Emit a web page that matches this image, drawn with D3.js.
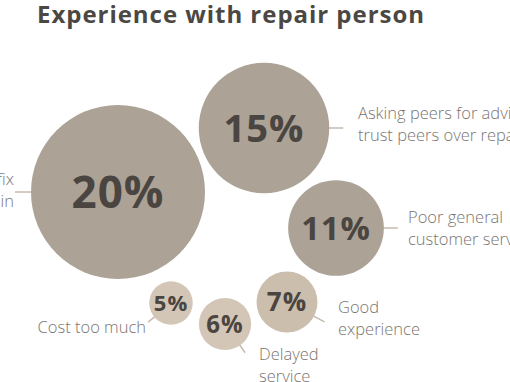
<!DOCTYPE html>
<meta charset="utf-8">
<head>
  <style>
    body { margin: 0; background: #fff; }
    svg { display: block; overflow: hidden; }
    .title { font-family: "Open Sans", sans-serif; font-weight: 700; font-size: 24px; fill: #4b4743; }
    .pct { font-family: "Open Sans", sans-serif; font-weight: 700; fill: #4a4540; letter-spacing: 1px; }
    .lbl { font-family: "Open Sans", sans-serif; font-weight: 300; font-size: 16.5px; fill: #7a7570; }
    .leader { stroke: #c6bbae; stroke-width: 1.5; }
  </style>
  <script src="https://cdn.jsdelivr.net/npm/d3@7"></script>
</head>
<body>
<script>
// values and labels
var values = [20, 15, 11, 7, 6, 5];
var labels = [
  ["Failed to fix", "the problem again"],
  ["Asking peers for advice,", "trust peers over repair person"],
  ["Poor general", "customer service"],
  ["Good", "experience"],
  ["Delayed", "service"],
  ["Cost too much"]
];
var tones = ["dark", "dark", "dark", "mid", "light", "light"];

// layout: bubble centres, where the leader leaves the bubble, label side
var centres = [[118, 192], [264, 128], [336, 228], [287, 302], [225, 324], [171, 303]];
var leaderAngle = [180, 0, 0, 28, 55, 140];   // degrees, 0 = right, clockwise
var leaderLen = [16, 14, 14, 12, 9, 8];
var labelAt = [[14, 185, "end"], [358, 119, "start"], [408, 223, "start"],
               [338, 313, "start"], [259, 360, "start"], [146, 333, "end"]];

var width = 510, height = 382;
var svg = d3.select("body").append("svg")
    .attr("width", width)
    .attr("height", height);

var r = d3.scaleLinear().domain([0, 20]).range([0, 87]);
var fs = d3.scaleSqrt().domain([0, 20]).range([0, 44]);
var fill = d3.scaleOrdinal().domain(["dark", "mid", "light"]).range(["#aca296", "#cbbead", "#d3c6b6"]);

svg.append("text")
    .attr("class", "title")
    .attr("x", 37)
    .attr("y", 23)
    .attr("textLength", 387)
    .attr("lengthAdjust", "spacing")
    .text("Experience with repair person");

var items = values.map(function(v, i) {
  return {value: v, label: labels[i], tone: tones[i], c: centres[i],
          ang: leaderAngle[i] * Math.PI / 180, len: leaderLen[i], lab: labelAt[i]};
});

// leader lines
svg.append("g").selectAll("line")
  .data(items)
  .enter().append("line")
    .attr("class", "leader")
    .attr("x1", function(d) { return d.c[0] + Math.cos(d.ang) * (r(d.value) - 2); })
    .attr("y1", function(d) { return d.c[1] + Math.sin(d.ang) * (r(d.value) - 2); })
    .attr("x2", function(d) { return d.c[0] + Math.cos(d.ang) * (r(d.value) + d.len); })
    .attr("y2", function(d) { return d.c[1] + Math.sin(d.ang) * (r(d.value) + d.len); });

var bub = svg.append("g").selectAll("g")
  .data(items)
  .enter().append("g")
    .attr("transform", function(d) { return "translate(" + d.c[0] + "," + d.c[1] + ")"; });

bub.append("circle")
    .attr("r", function(d) { return r(d.value); })
    .attr("fill", function(d) { return fill(d.tone); });

bub.append("text")
    .attr("class", "pct")
    .attr("text-anchor", "middle")
    .style("font-size", function(d) { return fs(d.value) + "px"; })
    .attr("y", function(d) { return fs(d.value) * 0.36; })
    .text(function(d) { return d.value + "%"; });

// category labels
var lab = svg.append("g").selectAll("text")
  .data(items)
  .enter().append("text")
    .attr("class", "lbl")
    .attr("x", function(d) { return d.lab[0]; })
    .attr("y", function(d) { return d.lab[1]; })
    .attr("text-anchor", function(d) { return d.lab[2]; });

lab.selectAll("tspan")
  .data(function(d) { return d.label.map(function(t) { return {t: t, x: d.lab[0]}; }); })
  .enter().append("tspan")
    .attr("x", function(d) { return d.x; })
    .attr("dy", function(d, i) { return i ? 22 : 0; })
    .text(function(d) { return d.t; });
</script>
</body>
